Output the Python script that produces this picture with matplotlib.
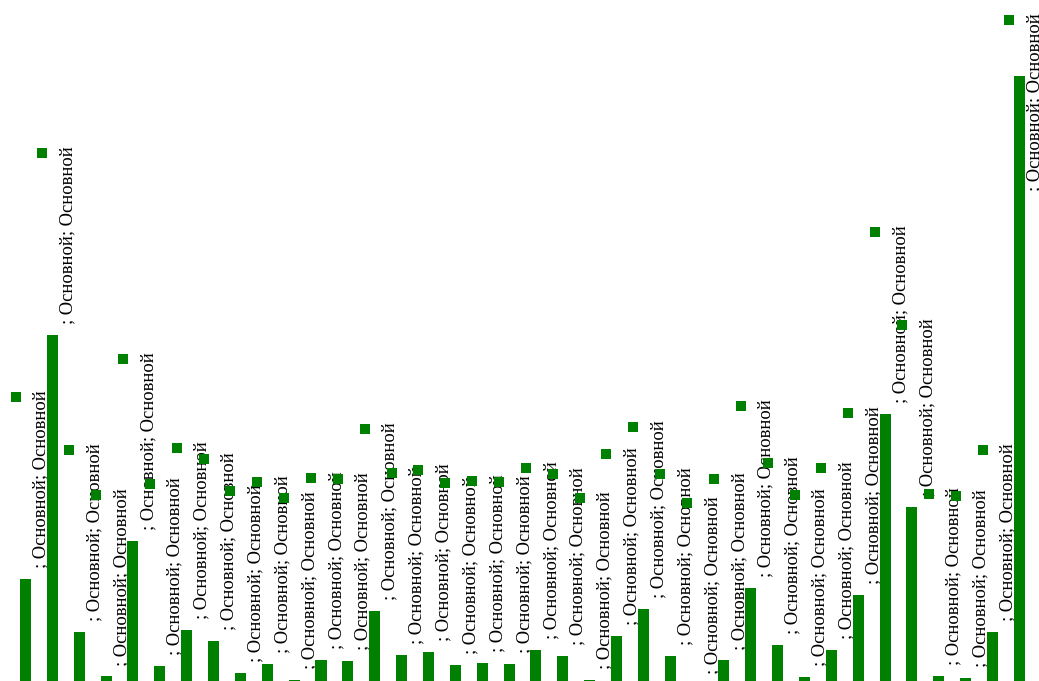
import matplotlib.pyplot as plt
import numpy as np

# values (pixel heights above the baseline)
bar_values = [102, 346, 49, 5, 140, 15, 51, 40, 8, 17, 1, 21, 20, 70, 26, 29, 16, 18, 17,
              31, 25, 1, 45, 72, 25, 0, 21, 93, 36, 4, 31, 86, 267, 174, 5, 3, 49, 605]
marker_values = [284.5, 528.5, 231.5, 186.5, 322.5, 197.5, 233.5, 222.5, 190.5, 199.5,
                 183.5, 203.5, 202.5, 252.5, 208.5, 211.5, 198.5, 200.5, 199.5, 213.5,
                 207.5, 183.5, 227.5, 254.5, 207.5, 178.5, 202.5, 275.5, 218.5, 186.5,
                 213.5, 268.5, 449.5, 356.5, 187.5, 185.5, 231.5, 661.5]
point_labels = ["; Основной; Основной"] * len(bar_values)

green = '#008000'
x = np.arange(len(bar_values))

fig = plt.figure(figsize=(10.39, 6.81), dpi=100)
ax = fig.add_axes([0, 0, 1, 1])

ax.bar(x, bar_values, width=0.41, color=green, zorder=3)
ax.plot(x - 0.372, marker_values, linestyle='none', marker='s', markersize=7.9,
        markeredgewidth=0, color=green, zorder=4)

# rotated labels hang down from the top of each marker
for xi, yi, lab in zip(x, marker_values, point_labels):
    ax.text(xi + 0.58, yi + 6.5, lab, rotation=90, ha='center', va='top',
            fontsize=13.4, family='Liberation Serif', color='black', zorder=1)

ax.set_xlim(-0.95, 37.73)
ax.set_ylim(0, 681)
ax.axis('off')

fig.savefig('out.png', dpi=100)
